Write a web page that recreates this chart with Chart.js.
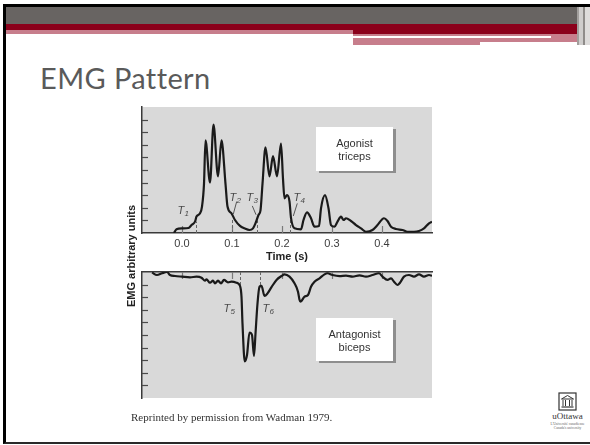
<!DOCTYPE html>
<html>
<head>
<meta charset="utf-8">
<script src="https://cdn.jsdelivr.net/npm/chart.js@4.4.0/dist/chart.umd.min.js"></script>
<style>
  html, body { margin: 0; padding: 0; background: #fff; }
  body { width: 590px; height: 445px; position: relative; overflow: hidden;
         font-family: "Liberation Sans", Arial, sans-serif; }
  .abs { position: absolute; }
  .frame { left: 3px; top: 4px; width: 620px; height: 440px; box-sizing: border-box;
           border-left: 3px solid #000; border-top: 3px solid #000; border-bottom: 2px solid #2a2a2a; }
  .title { left: 40px; top: 60px; font-family: Lato, "Open Sans", sans-serif; font-size: 29px;
           letter-spacing: 0.4px; color: #5a5a5a; line-height: 36px; white-space: nowrap; }
  .inset { background: #fff; box-shadow: 3px 2px 0 #8e8e8e; color: #333; font-size: 11px;
           line-height: 13px; text-align: center; box-sizing: border-box; }
  .ytitle { width: 140px; height: 14px; line-height: 14px; text-align: center; font-weight: bold;
            font-size: 11px; color: #222; transform: rotate(-90deg); white-space: nowrap; }
  .credit { left: 131px; top: 410px; font-family: "Liberation Serif", "Times New Roman", serif;
            font-size: 11px; color: #333; line-height: 14px; white-space: nowrap; }
  canvas { position: absolute; }
</style>
</head>
<body>
  <!-- slide frame and header bands -->
  <div class="abs frame"></div>
  <div class="abs" style="left:6px;top:7px;width:571px;height:17px;background:#686462;"></div>
  <div class="abs" style="left:577px;top:7px;width:2px;height:38px;background:#a29f9d;"></div>
  <div class="abs" style="left:579px;top:7px;width:4px;height:38px;background:#cfcdcc;"></div>
  <div class="abs" style="left:583px;top:7px;width:2px;height:38px;background:#8f8c8a;"></div>
  <div class="abs" style="left:585px;top:7px;width:5px;height:38px;background:#dedcdb;"></div>
  <div class="abs" style="left:6px;top:24px;width:571px;height:6px;background:#8b001b;"></div>
  <div class="abs" style="left:6px;top:30px;width:347px;height:4px;background:#c77e8c;"></div>
  <div class="abs" style="left:353px;top:30px;width:224px;height:4px;background:#8b001b;"></div>
  <div class="abs" style="left:353px;top:34px;width:224px;height:8px;background:#c77e8c;"></div>
  <div class="abs" style="left:353px;top:36px;width:198px;height:1.5px;background:#fff;"></div>
  <div class="abs" style="left:353px;top:42px;width:127px;height:3px;background:#c77e8c;"></div>

  <div class="abs title">EMG Pattern</div>

  <canvas id="agonist" width="320" height="175" style="left:120px;top:95px;"></canvas>
  <canvas id="antagonist" width="320" height="140" style="left:120px;top:265px;"></canvas>

  <div class="abs ytitle" style="left:61px;top:249px;">EMG arbitrary units</div>

  <div class="abs inset" style="left:316px;top:127px;width:77px;height:44px;padding-top:10px;">Agonist<br>triceps</div>
  <div class="abs inset" style="left:316px;top:318px;width:77px;height:43px;padding-top:10px;">Antagonist<br>biceps</div>

  <div class="abs credit">Reprinted by permission from Wadman 1979.</div>

  <!-- university mark -->
  <svg class="abs" style="left:558px;top:392px;" width="19" height="19" viewBox="0 0 19 19">
    <rect x="1" y="1" width="17" height="17" fill="none" stroke="#333" stroke-width="1.2"/>
    <path d="M3.5 7 L9.5 3.5 L15.5 7 Z" fill="none" stroke="#333" stroke-width="1"/>
    <path d="M5 8 V14 M7.5 8 V14 M11.5 8 V14 M14 8 V14" stroke="#333" stroke-width="1"/>
    <path d="M3.5 15 H15.5" stroke="#333" stroke-width="1.2"/>
  </svg>
  <div class="abs" style="left:545px;top:411px;width:45px;text-align:center;font-family:'Liberation Serif',serif;font-size:9px;color:#333;line-height:11px;">uOttawa</div>
  <div class="abs" style="left:545px;top:422px;width:45px;text-align:center;font-family:'Liberation Serif',serif;font-size:3.5px;color:#666;line-height:4px;">L'Université canadienne<br>Canada's university</div>

<script>
// EMG envelopes in arbitrary units against time (s)
const timeTicks = [0, 0.1, 0.2, 0.3, 0.4];
const levelTicks = [1, 2, 3, 4, 5, 6, 7, 8, 9];

// Agonist (triceps)
const agonistTime = [-0.016, -0.011, 0.0, 0.013, 0.019, 0.026, 0.029, 0.036, 0.040, 0.044, 0.047, 0.056,
  0.063, 0.072, 0.079, 0.087, 0.091, 0.099, 0.106, 0.116, 0.125, 0.135, 0.142, 0.147, 0.153, 0.157,
  0.161, 0.167, 0.175, 0.182, 0.190, 0.198, 0.202, 0.205, 0.210, 0.215, 0.218, 0.225, 0.238, 0.243,
  0.250, 0.258, 0.265, 0.274, 0.278, 0.286, 0.293, 0.298, 0.305, 0.311, 0.318, 0.323, 0.328, 0.338,
  0.348, 0.358, 0.368, 0.381, 0.391, 0.404, 0.411, 0.418, 0.428, 0.441, 0.451, 0.464, 0.474, 0.484,
  0.494, 0.500];
const agonistEmg = [0.0, 0.3, 0.37, 0.4, 0.63, 0.9, 1.3, 1.56, 2.1, 3.9, 7.35, 4.0,
  8.6, 4.5, 7.35, 3.9, 2.1, 1.56, 1.03, 0.56, 0.37, 0.24, 0.37, 0.77, 1.43, 1.8,
  3.9, 6.8, 4.5, 6.1, 4.5, 7.1, 4.3, 2.75, 3.0, 2.5, 1.2, 0.37, 0.29, 1.03,
  1.64, 1.17, 0.5, 0.55, 1.96, 3.0, 1.96, 0.63, 0.5, 0.9, 1.3, 1.03, 1.17, 0.95,
  0.63, 0.37, 0.1, 0.24, 0.63, 1.17, 0.95, 0.5, 0.32, 0.24, 0.1, 0.1, 0.16, 0.37,
  0.77, 0.9];

// Antagonist (biceps), drawn downward
const antagonistTime = [-0.060, -0.050, -0.040, -0.030, -0.024, -0.014, 0.0, 0.016, 0.029, 0.039, 0.046,
  0.049, 0.056, 0.062, 0.066, 0.072, 0.078, 0.084, 0.092, 0.099, 0.109, 0.116, 0.119, 0.121, 0.1255,
  0.130, 0.135, 0.140, 0.144, 0.147, 0.151, 0.155, 0.159, 0.165, 0.171, 0.179, 0.189, 0.199, 0.205,
  0.215, 0.225, 0.232, 0.235, 0.237, 0.245, 0.252, 0.258, 0.265, 0.275, 0.285, 0.291, 0.301, 0.315,
  0.328, 0.341, 0.355, 0.368, 0.381, 0.394, 0.401, 0.411, 0.418, 0.424, 0.431, 0.436, 0.444, 0.454,
  0.464, 0.474, 0.484, 0.494, 0.500];
const antagonistEmg = [0.05, 0.24, 0.1, 0.0, 0.24, 0.32, 0.37, 0.42, 0.37, 0.45, 0.69,
  0.58, 0.85, 0.69, 0.9, 0.69, 0.9, 0.63, 0.82, 0.77, 0.85, 1.1, 1.96, 4.1, 7.1,
  6.6, 4.8, 5.0, 6.67, 4.9, 2.5, 1.17, 1.1, 1.9, 1.7, 1.2, 0.63, 0.32, 0.19,
  0.37, 0.9, 1.56, 2.2, 2.36, 1.96, 1.83, 1.17, 0.77, 0.5, 0.19, 0.1, 0.24, 0.32,
  0.29, 0.37, 0.26, 0.37, 0.24, 0.1, 0.37, 0.63, 0.5, 0.77, 1.03, 0.85, 0.37, 0.24,
  0.37, 0.19, 0.37, 0.24, 0.3];

// Onset / offset markers
const agonistMarkerNames = ['1', '2', '3', '4'];
const agonistMarkerTimes = [0.028, 0.099, 0.149, 0.216];
const agonistMarkerLevels = [0.9, 1.1, 1.0, 1.1];
const antagonistMarkerNames = ['5', '6'];
const antagonistMarkerTimes = [0.116, 0.155];
const antagonistMarkerLevels = [1.55, 1.17];

const SANS = '"Liberation Sans", Arial, sans-serif';
const AXIS = '#3a3a3a';

// Panel background, inner tick marks, dashed markers and their T labels
const panelDecor = {
  id: 'panelDecor',
  beforeDraw(chart, args, opts) {
    const { ctx, chartArea: a } = chart;
    ctx.save();
    ctx.fillStyle = opts.background;
    ctx.fillRect(a.left, a.top, a.right - a.left, a.bottom - a.top);
    ctx.restore();
  },
  beforeDatasetsDraw(chart, args, opts) {
    const { ctx, chartArea: a, scales: { x, y } } = chart;
    ctx.save();
    ctx.strokeStyle = '#4a4a4a';
    ctx.lineWidth = 1.2;
    levelTicks.forEach(v => {
      const py = Math.round(y.getPixelForValue(v)) + 0.5;
      ctx.beginPath(); ctx.moveTo(a.left, py); ctx.lineTo(a.left + 6, py); ctx.stroke();
    });
    const edge = opts.timeEdge === 'bottom' ? a.bottom : a.top;
    const dir = opts.timeEdge === 'bottom' ? -1 : 1;
    ctx.strokeStyle = '#7a7a7a';
    timeTicks.forEach(t => {
      const px = Math.round(x.getPixelForValue(t)) + 0.5;
      ctx.beginPath(); ctx.moveTo(px, edge); ctx.lineTo(px, edge + dir * 7); ctx.stroke();
    });
    ctx.setLineDash([3, 2]);
    ctx.strokeStyle = '#666';
    ctx.lineWidth = 1;
    opts.markerTimes.forEach((t, i) => {
      const px = Math.round(x.getPixelForValue(t)) + 0.5;
      ctx.beginPath(); ctx.moveTo(px, edge); ctx.lineTo(px, y.getPixelForValue(opts.markerLevels[i])); ctx.stroke();
    });
    ctx.setLineDash([]);
    // labels and leader lines
    ctx.fillStyle = '#4a4a4a';
    ctx.strokeStyle = '#555';
    ctx.textBaseline = 'middle';
    ctx.textAlign = 'left';
    opts.markerTimes.forEach((t, i) => {
      const base = x.getPixelForValue(t);
      const cx = base + opts.labelDx[i];
      const cy = y.getPixelForValue(opts.labelLevels[i]);
      ctx.font = 'italic 11px ' + SANS;
      ctx.fillText('T', cx - 5.5, cy);
      ctx.font = 'italic 8px ' + SANS;
      ctx.fillText(opts.markerNames[i], cx + 1.5, cy + 3);
      const l = opts.leaders[i];
      if (l) {
        ctx.beginPath();
        ctx.moveTo(base + l[0], y.getPixelForValue(l[1]));
        ctx.lineTo(base + l[2], y.getPixelForValue(l[3]));
        ctx.stroke();
      }
    });
    ctx.restore();
  }
};

function series(times, values) {
  return times.map((t, i) => ({ x: t, y: values[i] }));
}

function lineDataset(times, values) {
  return {
    data: series(times, values),
    borderColor: '#1a1a1a',
    borderWidth: 2.2,
    pointRadius: 0,
    cubicInterpolationMode: 'monotone',
    fill: false
  };
}

const common = {
  responsive: false,
  animation: false,
  devicePixelRatio: 1,
  events: []
};

new Chart(document.getElementById('agonist'), {
  type: 'line',
  data: { datasets: [lineDataset(agonistTime, agonistEmg)] },
  options: Object.assign({}, common, {
    layout: { padding: { left: 22, top: 12, right: 8, bottom: 0 } },
    plugins: {
      legend: { display: false },
      tooltip: { enabled: false },
      panelDecor: {
        background: '#d9d9d9',
        timeEdge: 'bottom',
        markerNames: agonistMarkerNames,
        markerTimes: agonistMarkerTimes,
        markerLevels: agonistMarkerLevels,
        labelDx: [-13, 3.5, -4.5, 9],
        labelLevels: [1.75, 2.8, 2.8, 2.8],
        leaders: [null, [5.2, 2.5, 1.8, 1.5], [-4.2, 2.15, -0.5, 1.45], [7.3, 2.35, 3.3, 1.35]]
      }
    },
    scales: {
      x: {
        type: 'linear', min: -0.08, max: 0.5,
        afterBuildTicks: s => { s.ticks = timeTicks.map(v => ({ value: v })); },
        afterFit: s => { s.height = 37; },
        ticks: { callback: v => v.toFixed(1), font: { family: SANS, size: 11 }, color: '#3c3c3c',
                 padding: 4, maxRotation: 0, autoSkip: false },
        grid: { drawOnChartArea: false, drawTicks: false },
        border: { color: AXIS, width: 1.5 },
        title: { display: true, text: 'Time (s)', font: { family: SANS, size: 11, weight: 'bold' },
                 color: '#222', padding: { top: 0, bottom: 6 } }
      },
      y: {
        min: 0, max: 10,
        ticks: { display: false },
        grid: { drawOnChartArea: false, drawTicks: false },
        border: { color: AXIS, width: 1.5 },
        afterFit: s => { s.width = 0; }
      }
    }
  }),
  plugins: [panelDecor]
});

new Chart(document.getElementById('antagonist'), {
  type: 'line',
  data: { datasets: [lineDataset(antagonistTime, antagonistEmg)] },
  options: Object.assign({}, common, {
    layout: { padding: { left: 22, top: 7, right: 8, bottom: 7 } },
    plugins: {
      legend: { display: false },
      tooltip: { enabled: false },
      panelDecor: {
        background: '#d9d9d9',
        timeEdge: 'top',
        markerNames: antagonistMarkerNames,
        markerTimes: antagonistMarkerTimes,
        markerLevels: antagonistMarkerLevels,
        labelDx: [-11, 8.5],
        labelLevels: [2.94, 2.94],
        leaders: [null, null]
      }
    },
    scales: {
      x: {
        type: 'linear', position: 'top', min: -0.08, max: 0.5,
        afterBuildTicks: s => { s.ticks = timeTicks.map(v => ({ value: v })); },
        afterFit: s => { s.height = 0; },
        ticks: { display: false },
        grid: { drawOnChartArea: false, drawTicks: false },
        border: { color: AXIS, width: 1.5 }
      },
      y: {
        min: 0, max: 10, reverse: true,
        ticks: { display: false },
        grid: { drawOnChartArea: false, drawTicks: false },
        border: { color: AXIS, width: 1.5 },
        afterFit: s => { s.width = 0; }
      }
    }
  }),
  plugins: [panelDecor]
});
</script>
</body>
</html>
